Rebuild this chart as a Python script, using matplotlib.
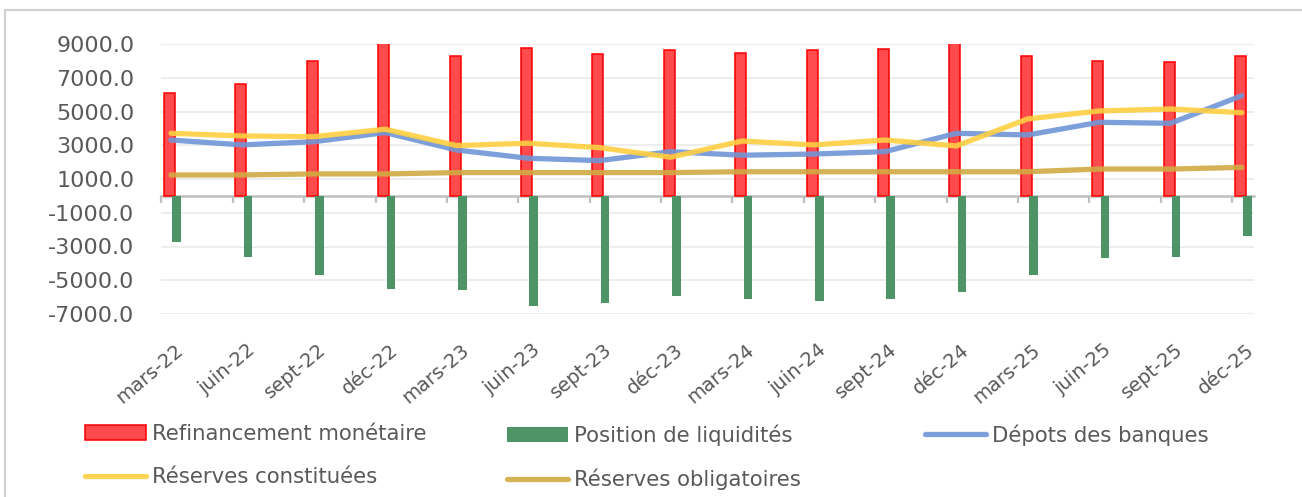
import numpy as np
import matplotlib
matplotlib.use("Agg")
import matplotlib.pyplot as plt
import matplotlib.transforms as mtransforms
from matplotlib.patches import Rectangle

# trimestres
labels = ["mars-22", "juin-22", "sept-22", "déc-22",
          "mars-23", "juin-23", "sept-23", "déc-23",
          "mars-24", "juin-24", "sept-24", "déc-24",
          "mars-25", "juin-25", "sept-25", "déc-25"]

refinancement = [6080, 6630, 8010, 9400, 8310, 8780, 8410, 8650,
                 8490, 8630, 8690, 9300, 8310, 7990, 7940, 8310]
position_liq = [-2750, -3600, -4690, -5530, -5590, -6520, -6360, -5910,
                -6130, -6230, -6130, -5700, -4690, -3680, -3600, -2360]
depots = [3310, 3020, 3210, 3750, 2720, 2230, 2090, 2620,
          2410, 2480, 2620, 3710, 3610, 4360, 4300, 5940]
res_constituees = [3710, 3550, 3510, 3950, 2980, 3120, 2860, 2290,
                   3250, 3020, 3310, 2960, 4560, 5030, 5150, 4930]
res_obligatoires = [1240, 1240, 1300, 1300, 1380, 1380, 1380, 1380,
                    1430, 1430, 1430, 1430, 1430, 1590, 1590, 1690]

grey_txt = "#595959"
plt.rcParams["font.family"] = ["DejaVu Sans"]

fig = plt.figure(figsize=(13.02, 4.97), dpi=100)
ax = fig.add_axes([161 / 1302, 1 - 314 / 497, (1254 - 161) / 1302, 270 / 497])

x = np.arange(len(labels))
ymin, ymax = -7000, 9000

ax.bar(x - 0.02, refinancement, width=0.155, color="#ff4b4b",
       edgecolor="#ff0000", linewidth=1.1, zorder=2, label="Refinancement monétaire")
ax.bar(x + 0.08, position_liq, width=0.12, color="#4e9467",
       zorder=2, label="Position de liquidités")

lkw = dict(linewidth=3.8, solid_capstyle="round", solid_joinstyle="round",
           alpha=0.9, zorder=3)
ax.plot(x, depots, color="#7096d6", label="Dépots des banques", **lkw)
ax.plot(x, res_constituees, color="#ffd042", label="Réserves constituées", **lkw)
ax.plot(x, res_obligatoires, color="#d2aa44", label="Réserves obligatoires", **lkw)

ax.set_ylim(ymin, ymax)
ax.set_xlim(-0.14, 15.17)
ax.set_yticks(np.arange(-7000, 9001, 2000))
ax.yaxis.set_major_formatter(matplotlib.ticker.FormatStrFormatter("%.1f"))
ax.tick_params(axis="y", length=0, pad=19, labelsize=16, labelcolor=grey_txt)
ax.grid(axis="y", color="#ececec", linewidth=1.3, zorder=0)
ax.set_axisbelow(True)
for s in ax.spines.values():
    s.set_visible(False)

ax.set_xticks(x)
ax.set_xticklabels(labels, rotation=40, ha="right", va="center",
                   rotation_mode="anchor", fontsize=14, color=grey_txt)
ax.tick_params(axis="x", length=0, pad=24)
shift = mtransforms.ScaledTranslation(0.10, 0, fig.dpi_scale_trans)
for t in ax.get_xticklabels():
    t.set_transform(t.get_transform() + shift)

# axe des catégories à zéro
sec = ax.secondary_xaxis(-ymin / (ymax - ymin))
sec.set_xticks(x - 0.135)
sec.set_xticklabels([])
sec.tick_params(length=5, width=1.6, color="#bfbfbf")
sec.spines["bottom"].set_color("#bfbfbf")
sec.spines["bottom"].set_linewidth(1.8)

# légende en trois colonnes
h, l = ax.get_legend_handles_labels()
lut = dict(zip(l, h))
cols = [(85, ["Refinancement monétaire", "Réserves constituées"]),
        (507, ["Position de liquidités", "Réserves obligatoires"]),
        (925, ["Dépots des banques"])]
for xpx, names in cols:
    leg = fig.legend([lut[n] for n in names], names, loc="upper left",
                     bbox_to_anchor=(xpx / 1302, 1 - 424 / 497),
                     frameon=False, fontsize=15.3, borderpad=0, borderaxespad=0,
                     handlelength=2.85, handletextpad=0.3, labelspacing=1.1)
    for t in leg.get_texts():
        t.set_color(grey_txt)

# cadre du graphique
fig.add_artist(Rectangle((5 / 1302, -0.1), 1.2, 1 - 10 / 497 + 0.1,
                         transform=fig.transFigure, fill=False,
                         edgecolor="#d0d0d0", linewidth=1.5))

fig.savefig("out.png", dpi=100)
